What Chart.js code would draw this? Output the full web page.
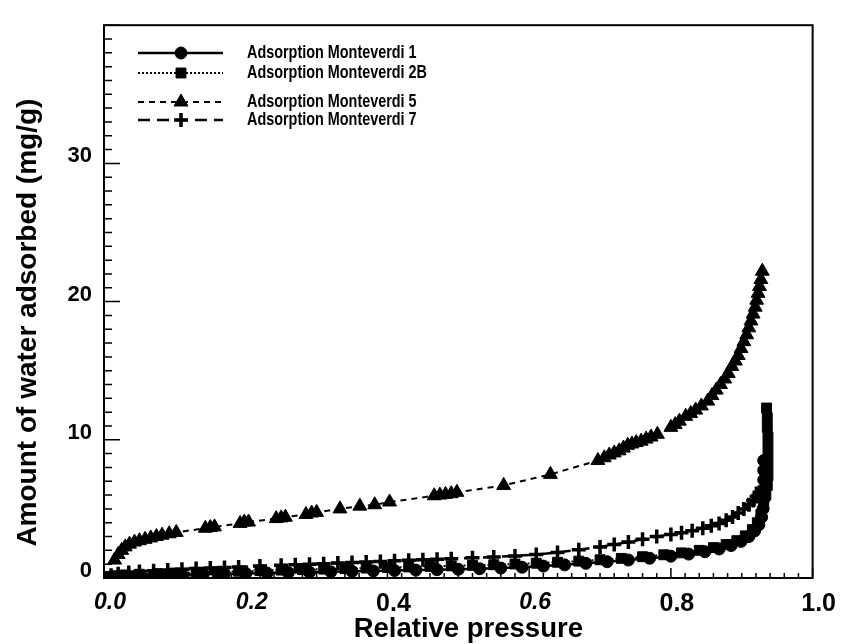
<!DOCTYPE html>
<html><head><meta charset="utf-8">
<script src="https://cdn.jsdelivr.net/npm/chart.js@4.4.1/dist/chart.umd.min.js"></script>
<style>html,body{margin:0;padding:0;background:#fff}#wrap{width:841px;height:644px;position:relative}</style>
</head><body><div id="wrap"><canvas id="c" width="841" height="644"></canvas></div>
<script>
const seriesLabels = ['Adsorption Monteverdi 1','Adsorption Monteverdi 2B','Adsorption Monteverdi 5','Adsorption Monteverdi 7'];
const xTickLabels = ['0.0','0.2','0.4','0.6','0.8','1.0'];
const yTickLabels = ['0','10','20','30'];
const xTitle = 'Relative pressure';
const yTitle = 'Amount of water adsorbed (mg/g)';

const m1X = [0.000,0.004,0.01,0.02,0.035,0.05,0.07,0.09,0.11,0.14,0.17,0.20,0.23,0.26,0.29,0.32,0.35,0.38,0.41,0.44,0.47,0.50,0.53,0.56,0.59,0.62,0.65,0.68,0.71,0.74,0.77,0.80,0.825,0.848,0.868,0.885,0.899,0.910,0.918,0.924,0.928,0.930,0.931,0.931,0.931,0.931,0.931];
const m1Y = [0.00,0.04,0.07,0.09,0.12,0.14,0.17,0.20,0.23,0.27,0.30,0.33,0.36,0.39,0.42,0.45,0.48,0.51,0.54,0.57,0.60,0.63,0.67,0.72,0.78,0.86,0.95,1.06,1.18,1.30,1.43,1.58,1.73,1.90,2.10,2.35,2.65,3.00,3.40,3.85,4.40,5.00,5.70,6.40,7.10,7.80,8.50];

const m2X = [0.000,0.006,0.015,0.03,0.05,0.075,0.10,0.13,0.16,0.19,0.22,0.25,0.28,0.31,0.34,0.37,0.40,0.43,0.46,0.49,0.52,0.55,0.58,0.61,0.64,0.67,0.70,0.73,0.76,0.79,0.815,0.84,0.86,0.878,0.893,0.905,0.915,0.922,0.927,0.931,0.934,0.936,0.937,0.937,0.937,0.937,0.937,0.936,0.936,0.935];
const m2Y = [0.00,0.10,0.16,0.22,0.27,0.32,0.36,0.41,0.45,0.49,0.53,0.57,0.61,0.64,0.68,0.72,0.76,0.80,0.84,0.88,0.92,0.96,1.01,1.07,1.14,1.22,1.32,1.42,1.54,1.68,1.82,2.00,2.20,2.42,2.70,3.05,3.50,4.00,4.60,5.30,6.00,6.70,7.40,8.10,8.80,9.50,10.2,10.9,11.6,12.3];

const m5X = [0.015,0.020,0.025,0.030,0.036,0.043,0.050,0.058,0.066,0.074,0.082,0.092,0.102,0.143,0.150,0.156,0.192,0.198,0.204,0.243,0.250,0.256,0.285,0.293,0.300,0.333,0.361,0.382,0.403,0.466,0.474,0.482,0.490,0.498,0.564,0.630,0.697,0.706,0.713,0.720,0.727,0.733,0.739,0.745,0.751,0.758,0.765,0.772,0.781,0.800,0.806,0.812,0.821,0.828,0.835,0.843,0.852,0.858,0.864,0.870,0.876,0.881,0.886,0.891,0.895,0.899,0.903,0.907,0.910,0.913,0.916,0.919,0.921,0.923,0.925,0.927,0.929];
const m5Y = [1.3,1.7,2.0,2.25,2.45,2.6,2.7,2.8,2.9,3.0,3.1,3.2,3.3,3.6,3.65,3.7,3.95,4.05,4.05,4.3,4.35,4.4,4.6,4.7,4.75,5.0,5.2,5.3,5.5,5.95,6.0,6.05,6.1,6.2,6.7,7.5,8.5,8.7,8.9,9.05,9.2,9.4,9.6,9.7,9.8,9.9,10.05,10.2,10.4,10.9,11.1,11.35,11.7,11.9,12.15,12.45,12.8,13.2,13.6,14.0,14.4,14.8,15.3,15.7,16.1,16.6,17.1,17.6,18.1,18.6,19.1,19.6,20.1,20.6,21.1,21.6,22.2];

const m7X = [0.000,0.010,0.020,0.035,0.05,0.07,0.09,0.11,0.13,0.15,0.17,0.19,0.22,0.25,0.27,0.29,0.31,0.33,0.35,0.37,0.39,0.41,0.43,0.45,0.47,0.49,0.52,0.55,0.58,0.61,0.64,0.67,0.70,0.72,0.74,0.76,0.78,0.80,0.815,0.83,0.845,0.857,0.868,0.878,0.887,0.895,0.903,0.910,0.916,0.921,0.925,0.928];
const m7Y = [0.00,0.20,0.30,0.40,0.47,0.53,0.58,0.63,0.68,0.72,0.76,0.80,0.86,0.92,0.96,1.00,1.04,1.08,1.12,1.16,1.20,1.24,1.28,1.32,1.36,1.40,1.46,1.52,1.60,1.70,1.85,2.05,2.25,2.42,2.60,2.80,3.00,3.15,3.28,3.42,3.60,3.78,3.95,4.18,4.42,4.70,5.00,5.30,5.60,5.90,6.20,6.50];

const pts = (xs, ys) => xs.map((x, i) => ({x, y: ys[i]}));
const FONT = '"Liberation Sans", Arial, Helvetica, sans-serif';

const datasets = [
  {label: seriesLabels[0], data: pts(m1X, m1Y), borderColor:'#000', backgroundColor:'#000', borderWidth:2.5, borderDash:[], pointStyle:'circle', pointRadius:6, pointBorderWidth:1},
  {label: seriesLabels[1], data: pts(m2X, m2Y), borderColor:'#000', backgroundColor:'#000', borderWidth:2, borderDash:[2,2], pointStyle:'rect', pointRadius:7, pointBorderWidth:1},
  {label: seriesLabels[2], data: pts(m5X, m5Y), borderColor:'#000', backgroundColor:'#000', borderWidth:2, borderDash:[6,5], pointStyle:'triangle', pointRadius:8, pointBorderWidth:1},
  {label: seriesLabels[3], data: pts(m7X, m7Y), borderColor:'#000', backgroundColor:'#000', borderWidth:2.5, borderDash:[12,7], pointStyle:'cross', pointRadius:7, pointBorderWidth:3.5}
];

function drawMarker(ctx, style, x, y, r, bw){
  ctx.fillStyle='#000'; ctx.strokeStyle='#000'; ctx.lineWidth=bw;
  if (Chart.helpers && Chart.helpers.drawPoint){
    Chart.helpers.drawPoint(ctx, {pointStyle: style, radius: r, borderWidth: bw, rotation: 0}, x, y);
    return;
  }
  ctx.beginPath(); ctx.arc(x,y,r,0,Math.PI*2); ctx.fill();
}

const framePlugin = {
  id:'frame',
  afterDatasetsDraw(chart){
    const {ctx, chartArea:a, scales:{x, y}} = chart;
    ctx.save();
    ctx.strokeStyle='#000'; ctx.lineWidth=2; ctx.setLineDash([]);
    ctx.strokeRect(a.left, a.top, a.right-a.left, a.bottom-a.top);
    ctx.lineWidth=1.5;
    ctx.beginPath();
    for (let i=0;i<=50;i++){
      const px = x.getPixelForValue(i*0.02);
      const L = i%10===0 ? 10 : 5;
      ctx.moveTo(px, a.bottom); ctx.lineTo(px, a.bottom-L);
    }
    for (let i=0;i<=40;i++){
      const py = y.getPixelForValue(i);
      const L = i%10===0 ? 16 : 8;
      ctx.moveTo(a.left, py); ctx.lineTo(a.left+L, py);
    }
    ctx.stroke();
    ctx.restore();
  }
};

const textPlugin = {
  id:'titlesAndLegend',
  afterDraw(chart){
    const ctx = chart.ctx;
    const a = chart.chartArea;
    // axis titles
    ctx.save();
    ctx.fillStyle='#000';
    ctx.font = 'bold 27.5px ' + FONT;
    ctx.textAlign='center'; ctx.textBaseline='middle';
    ctx.fillText(xTitle, (a.left + a.right)/2 + 10, 629);
    ctx.translate(28, (a.top + a.bottom)/2 + 21);
    ctx.rotate(-Math.PI/2);
    ctx.font = 'bold 28px ' + FONT;
    ctx.fillText(yTitle, 0, 0);
    ctx.restore();
    // legend
    const rows = [53, 73, 102, 120];
    chart.data.datasets.forEach((ds, i) => {
      const yy = rows[i];
      ctx.save();
      ctx.strokeStyle='#000'; ctx.fillStyle='#000';
      ctx.lineWidth = ds.borderWidth; ctx.setLineDash(ds.borderDash || []);
      ctx.beginPath(); ctx.moveTo(138, yy); ctx.lineTo(223, yy); ctx.stroke();
      ctx.setLineDash([]);
      drawMarker(ctx, ds.pointStyle, 181, yy, ds.pointRadius, ds.pointBorderWidth);
      ctx.fillStyle='#000';
      ctx.font = 'bold 18px ' + FONT;
      ctx.textBaseline = 'middle'; ctx.textAlign='left';
      ctx.translate(247, yy); ctx.scale(0.8, 1);
      ctx.fillText(ds.label, 0, 0);
      ctx.restore();
    });
  }
};

new Chart(document.getElementById('c'), {
  type: 'line',
  data: {datasets},
  options: {
    responsive: false,
    animation: false,
    devicePixelRatio: 1,
    layout: {padding: {top: 13, right: 23, left: 0, bottom: 0}},
    plugins: {legend: {display:false}, tooltip: {enabled:false}},
    elements: {line: {tension: 0}},
    scales: {
      x: {
        type: 'linear', min: 0, max: 1,
        afterFit: s => { s.height = 66; },
        grid: {display:false, drawTicks:false}, border: {display:false},
        ticks: {
          stepSize: 0.2, padding: 11, color:'#000', maxRotation:0, labelOffset: 6,
          callback: (v) => xTickLabels[Math.round(v*5)],
          font: (c) => {
            const k = c.tick ? Math.round(c.tick.value*10) : 0;
            const it = (k===0 || k===2 || k===6);
            return {family: FONT, size: it ? 23 : 25, weight: 'bold', style: it ? 'italic' : 'normal'};
          }
        },
        title: {display:false, text: xTitle}
      },
      y: {
        type: 'linear', min: 0, max: 40,
        afterFit: s => { s.width = 104; },
        grid: {display:false, drawTicks:false}, border: {display:false},
        ticks: {
          stepSize: 10, padding: 12, color:'#000', labelOffset: -7,
          callback: (v) => yTickLabels[Math.round(v/10)] ?? '',
          font: {family: FONT, size: 22, weight: 'bold'}
        },
        title: {display:false, text: yTitle}
      }
    }
  },
  plugins: [framePlugin, textPlugin]
});
</script>
</body></html>
